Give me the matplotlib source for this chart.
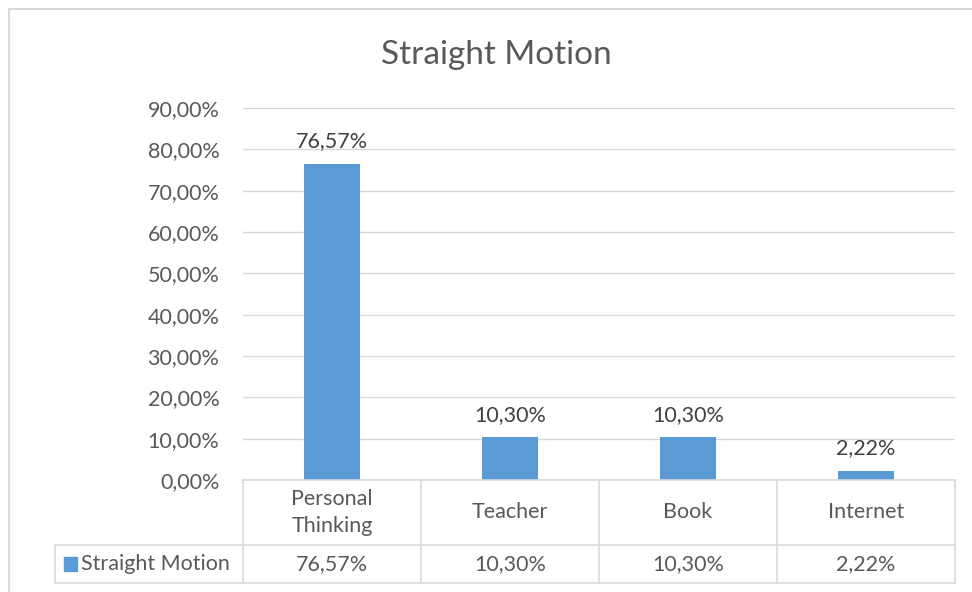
import matplotlib
matplotlib.use("Agg")
import matplotlib.pyplot as plt
from matplotlib.lines import Line2D
from matplotlib.patches import Rectangle
from matplotlib.transforms import blended_transform_factory

categories = ["Personal\nThinking", "Teacher", "Book", "Internet"]
values = [0.7657, 0.1030, 0.1030, 0.0222]
value_labels = ["76,57%", "10,30%", "10,30%", "2,22%"]
series_name = "Straight Motion"
yticks = [0.0, 0.1, 0.2, 0.3, 0.4, 0.5, 0.6, 0.7, 0.8, 0.9]
ytick_labels = ["0,00%", "10,00%", "20,00%", "30,00%", "40,00%", "50,00%",
                "60,00%", "70,00%", "80,00%", "90,00%"]

plt.rcParams['font.family'] = ['Lato', 'DejaVu Sans']
text_color = "#595959"
grid_color = "#d9d9d9"
bar_color = "#5b9bd5"
fs = 15.5

W, H = 972, 592
fig = plt.figure(figsize=(W / 100, H / 100), dpi=100)

def fx(px):
    return px / W

def fy(py):
    return 1 - py / H

# plot area
left, right, top, bottom = 243, 955, 108, 480
ax = fig.add_axes([fx(left), fy(bottom), fx(right) - fx(left), fy(top) - fy(bottom)])
x = list(range(len(categories)))
ax.bar(x, values, width=0.315, color=bar_color, zorder=3)
ax.set_xlim(-0.5, len(categories) - 0.5)
ax.set_ylim(0, 0.9)
ax.set_yticks(yticks)
ax.set_yticklabels(ytick_labels, fontsize=fs, color=text_color)
ax.tick_params(axis="y", length=0, pad=17)
ax.set_xticks([])
ax.grid(axis="y", color=grid_color, linewidth=1, zorder=0)
for s in ax.spines.values():
    s.set_visible(False)

for xi, v, lab in zip(x, values, value_labels):
    ax.annotate(lab, (xi, v), xytext=(0, 9), textcoords="offset points",
                ha="center", va="bottom", fontsize=fs, color="#404040")

fig.text(fx(496), fy(55), series_name, ha="center", va="center", fontsize=24,
         color=text_color)

# data table
tr = blended_transform_factory(ax.transData, fig.transFigure)
row1, row2, row3 = bottom, 545, 583
tleft = 55

def hline(x0, x1, y):
    fig.add_artist(Line2D([fx(x0), fx(x1)], [fy(y), fy(y)], color=grid_color, lw=1.2))

def vline(xp, y0, y1):
    fig.add_artist(Line2D([fx(xp), fx(xp)], [fy(y0), fy(y1)], color=grid_color, lw=1.2))

hline(left, right, row1)
hline(tleft, right, row2)
hline(tleft, right, row3)
vline(tleft, row2, row3)
for i in range(len(categories) + 1):
    xp = left + (right - left) * i / len(categories)
    vline(xp, row1, row3)

for xi, c, lab in zip(x, categories, value_labels):
    fig.text(xi, fy((row1 + row2) / 2), c, transform=tr, ha="center", va="center",
             fontsize=fs, color=text_color, linespacing=1.45)
    fig.text(xi, fy((row2 + row3) / 2), lab, transform=tr, ha="center", va="center",
             fontsize=fs, color=text_color)

fig.add_artist(Rectangle((fx(64), fy(571)), fx(13), fy(557) - fy(571),
                         color=bar_color, transform=fig.transFigure))
fig.text(fx(81), fy((row2 + row3) / 2), series_name, ha="left", va="center",
         fontsize=fs, color=text_color)

# outer chart border (bottom edge falls outside the image)
fig.add_artist(Rectangle((fx(9), fy(600)), fx(980) - fx(9), fy(9) - fy(600),
                         fill=False, edgecolor=grid_color, lw=1.5,
                         transform=fig.transFigure))

fig.savefig("out.png", dpi=100)
